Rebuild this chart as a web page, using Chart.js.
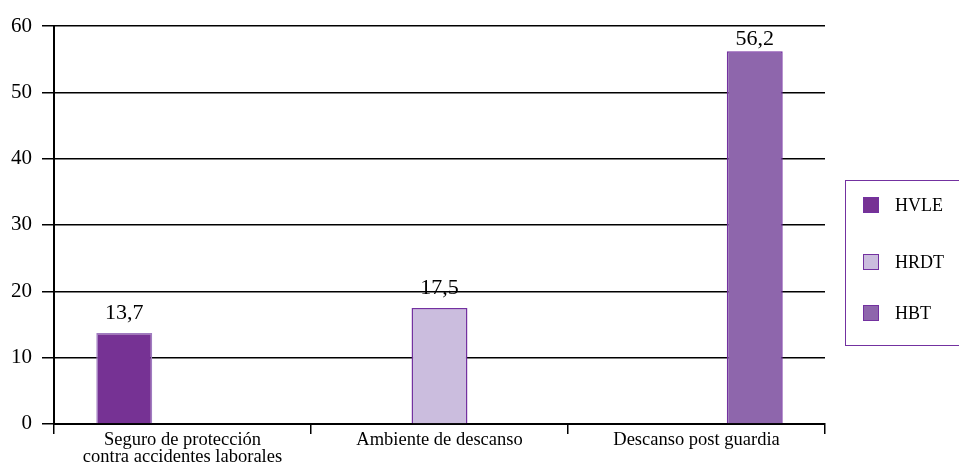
<!DOCTYPE html>
<html>
<head>
<meta charset="utf-8">
<script src="https://cdn.jsdelivr.net/npm/chart.js@4.4.0/dist/chart.umd.min.js"></script>
<style>
html,body{margin:0;padding:0;background:#fff;}
#wrap{width:959px;height:463px;}
</style>
</head>
<body>
<div id="wrap"><canvas id="myChart"></canvas></div>
<script>
var categories = [["Seguro de protección", "contra accidentes laborales"], "Ambiente de descanso", "Descanso post guardia"];
var seriesNames = ["HVLE", "HRDT", "HBT"];
var hvle = [13.7, null, null];
var hrdt = [null, 17.5, null];
var hbt = [null, null, 56.2];
var yTicks = [0, 10, 20, 30, 40, 50, 60];

var fillColors = ["#763294", "#CBBDDE", "#8E66AC"];
var edgeColor = "#7331A0";
var serif = "'Liberation Serif', 'Times New Roman', serif";

// values above bars, comma decimal
var valueLabels = {
    id: "valueLabels",
    afterDatasetsDraw: function(chart) {
        var ctx = chart.ctx;
        ctx.save();
        ctx.font = "22px " + serif;
        ctx.fillStyle = "#000";
        ctx.textAlign = "center";
        ctx.textBaseline = "bottom";
        chart.data.datasets.forEach(function(ds, i) {
            var meta = chart.getDatasetMeta(i);
            meta.data.forEach(function(bar, j) {
                var v = ds.data[j];
                if (v === null) return;
                var y = Math.max(bar.y - 9, chart.chartArea.top + 24);
                ctx.fillText(String(v).replace(".", ","), bar.x, y);
            });
        });
        ctx.restore();
    }
};

// boxed legend on the right
var boxLegend = {
    id: "boxLegend",
    afterDraw: function(chart) {
        var ctx = chart.ctx;
        var x0 = 845, y0 = 180, w = 125, h = 165;
        var rows = [205, 262, 313];
        ctx.save();
        ctx.strokeStyle = edgeColor;
        ctx.lineWidth = 1;
        ctx.strokeRect(x0 + 0.5, y0 + 0.5, w, h);
        ctx.font = "18px " + serif;
        ctx.textBaseline = "middle";
        chart.data.datasets.forEach(function(ds, i) {
            var cy = rows[i];
            ctx.fillStyle = ds.backgroundColor;
            ctx.fillRect(863, cy - 8, 16, 16);
            ctx.strokeStyle = edgeColor;
            ctx.strokeRect(863.5, cy - 7.5, 15, 15);
            ctx.fillStyle = "#000";
            ctx.fillText(ds.label, 895, cy + 1);
        });
        ctx.restore();
    }
};

var datasets = [hvle, hrdt, hbt].map(function(d, i) {
    return {
        label: seriesNames[i],
        data: d,
        backgroundColor: fillColors[i],
        borderColor: i === 0 ? "#A07CC0" : edgeColor,
        borderWidth: 1.5,
        categoryPercentage: 0.68,
        barPercentage: 0.96
    };
});

new Chart(document.getElementById("myChart"), {
    type: "bar",
    data: { labels: categories, datasets: datasets },
    options: {
        responsive: true,
        maintainAspectRatio: false,
        animation: false,
        layout: { padding: { left: 1, right: 134, top: 26, bottom: 0 } },
        plugins: {
            legend: { display: false },
            tooltip: { enabled: false }
        },
        scales: {
            x: {
                grid: {
                    display: true,
                    offset: true,
                    drawOnChartArea: false,
                    color: "#000",
                    lineWidth: 1.5,
                    tickLength: 10
                },
                border: { color: "#000", width: 2 },
                ticks: {
                    color: "#000",
                    font: { family: serif, size: 18.5, lineHeight: 0.92 },
                    maxRotation: 0,
                    autoSkip: false,
                    padding: -2.5
                }
            },
            y: {
                min: 0,
                max: 60,
                afterBuildTicks: function(axis) {
                    axis.ticks = yTicks.map(function(v) { return { value: v }; });
                },
                grid: {
                    color: "#000",
                    lineWidth: 1.5,
                    tickLength: 12
                },
                border: { color: "#000", width: 2 },
                ticks: {
                    color: "#000",
                    font: { family: serif, size: 21 },
                    padding: 10
                }
            }
        }
    },
    plugins: [valueLabels, boxLegend]
});
</script>
</body>
</html>
